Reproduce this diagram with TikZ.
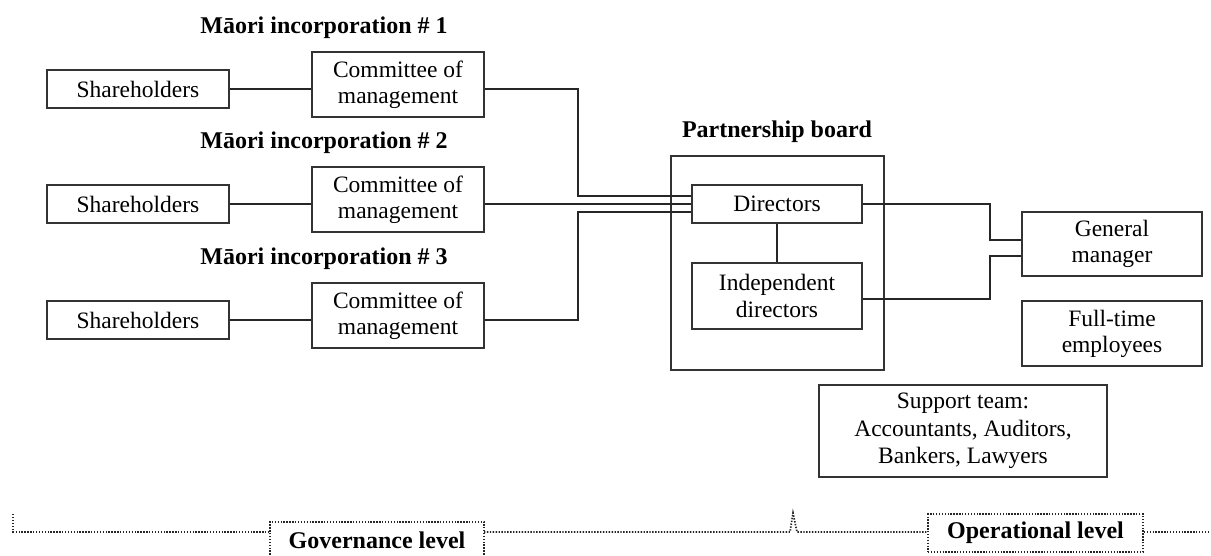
\documentclass[tikz,border=0pt]{standalone}
\usepackage{fontspec}
\setmainfont{Liberation Serif}
\begin{document}
\begin{tikzpicture}[x=1pt,y=-1pt,
  box/.style={draw=black!80, line width=1.3pt, inner sep=0pt, align=center,
    font=\fontsize{23.5}{26}\selectfont},
  head/.style={inner sep=0pt, font=\fontsize{24}{26}\selectfont\bfseries},
  wire/.style={draw=black!85, line width=1.3pt},
  dots/.style={draw=black!85, line width=1.7pt, dash pattern=on 1.4pt off 1.5pt}]
\path[use as bounding box] (0,0) rectangle (1211,555);
\clip (0,0) rectangle (1211,555);

% three incorporations
\foreach \i/\y in {1/0,2/115,3/231}{
  \node[head] (t\i) at (324,28+\y) {Māori incorporation \# \i};
  \node[box, minimum width=182pt, minimum height=38pt] (sh\i) at (138,89+\y) {Shareholders};
  \node[box, minimum width=172pt, minimum height=65pt] (cm\i) at (398,84.5+\y) {Committee of\\management};
  \draw[wire] (sh\i.east) -- (cm\i.west |- sh\i.east);
}

% partnership board
\node[head] (pbt) at (777,132) {Partnership board};
\node[draw=black!80, line width=1.3pt, minimum width=213pt, minimum height=214pt, inner sep=0pt] (pb) at (777.5,263) {};
\node[box, minimum width=170pt, minimum height=38pt] (dir) at (777,204) {Directors};
\node[box, minimum width=170pt, minimum height=66pt,
  font=\fontsize{23.5}{27.5}\selectfont] (ind) at (777,296) {Independent\\directors};
\draw[wire] (dir.south) -- (ind.north);

% operational side
\node[box, minimum width=180pt, minimum height=64pt] (gm) at (1112,244) {General\\manager};
\node[box, minimum width=180pt, minimum height=65pt] (ft) at (1112,333.5) {Full-time\\employees};
\node[box, minimum width=288pt, minimum height=92pt,
  font=\fontsize{23.5}{27.5}\selectfont] (sup) at (963,431) {Support team:\\Accountants, Auditors,\\Bankers, Lawyers};

% bus lines
\coordinate (busL) at (578,0);
\coordinate (busR) at (990,0);
\coordinate (d1) at ([yshift=8pt]dir.west);
\coordinate (d3) at ([yshift=-8pt]dir.west);
\coordinate (g1) at ([yshift=4pt]gm.west);
\coordinate (g2) at ([yshift=-12pt]gm.west);
\coordinate (i1) at ([yshift=-3pt]ind.east);

\draw[wire] (cm1.east |- sh1.east) -| (busL |- d1) -- (d1);
\draw[wire] (cm2.east |- sh2.east) -- (cm2.east |- dir.west) -- (dir.west);
\draw[wire] (cm3.east |- sh3.east) -| (busL |- d3) -- (d3);
\draw[wire] (dir.east) -| (busR |- g1) -- (g1);
\draw[wire] (i1) -| (busR |- g2) -- (g2);

% level brackets
\node[head] (gov) at (377,540) {Governance level};
\node[draw=black!85, line width=1.7pt, dash pattern=on 1.4pt off 1.5pt,
  minimum width=215pt, minimum height=37.5pt, inner sep=0pt,
  font=\fontsize{24}{26}\selectfont\bfseries] (op) at (1035.5,533) {Operational level};
\draw[dots] (270,575) -- (270,521.7) -- (484,521.7) -- (484,575);
\draw[dots] (13,514) -- (13,531.7) -- (270,531.7);
\draw[dots] (484,532) -- (790,532) -- (793,513) -- (797,532) -- (op.west |- 0,532);
\draw[dots] (op.east |- 0,532) -- (1211,532);
\end{tikzpicture}
\end{document}
